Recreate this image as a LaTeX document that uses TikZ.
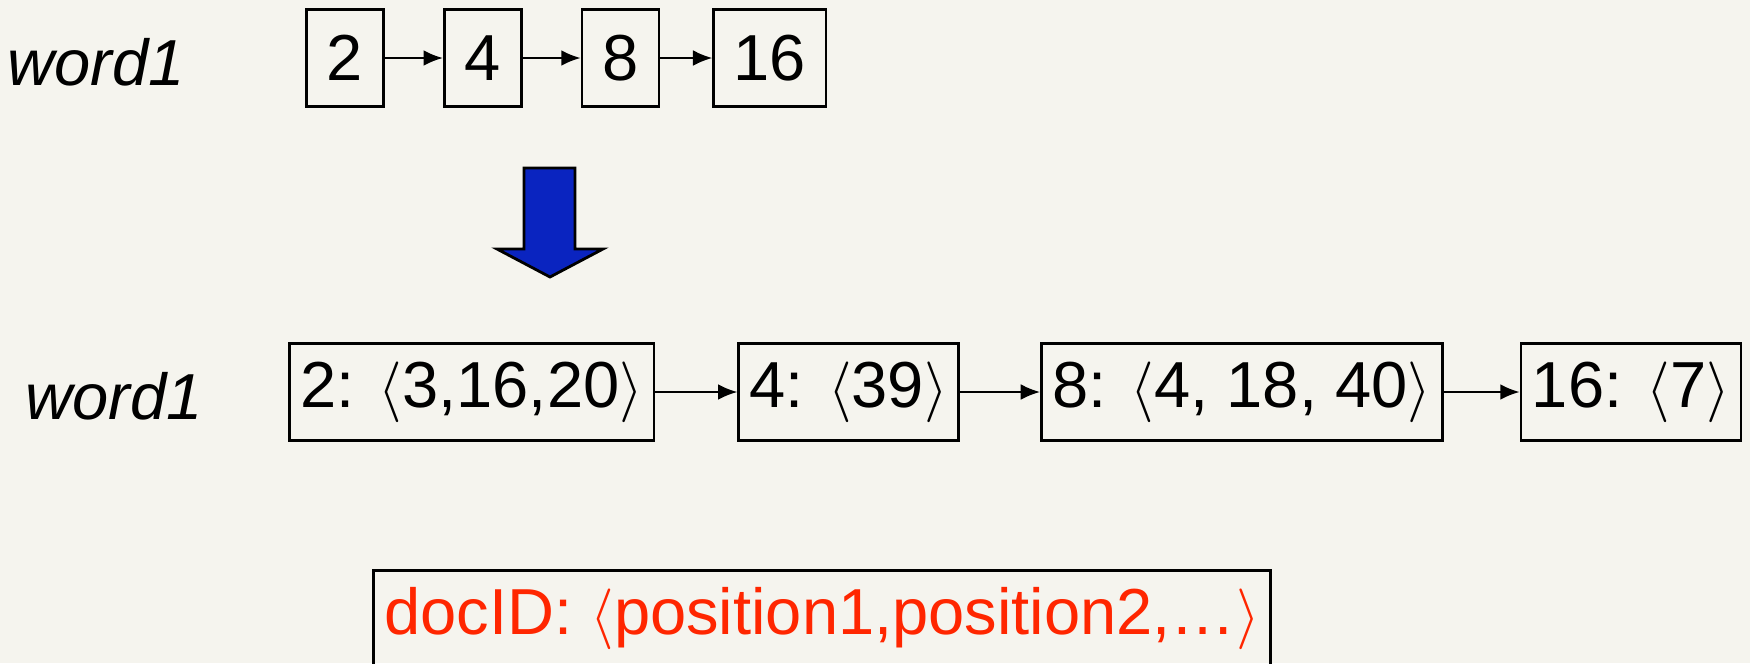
\documentclass[tikz,border=0pt]{standalone}
\usepackage{fontspec}
\setmainfont{Liberation Sans}
\usetikzlibrary{arrows.meta,positioning}

\definecolor{paper}{RGB}{245,244,238}
\definecolor{mergeblue}{RGB}{10,36,192}
\definecolor{idred}{RGB}{255,38,0}
\newcommand{\posopen}{\ensuremath{\langle}}
\newcommand{\posclose}{\ensuremath{\rangle}}

\begin{document}
\begin{tikzpicture}[x=0.01cm,y=-0.01cm,>={Latex[length=5.5pt,width=4.5pt]},
    every node/.style={font=\fontsize{18.5}{22}\selectfont},
    term/.style={font=\fontsize{18.5}{22}\selectfont\itshape},
    cell/.style={draw,line width=0.75pt,minimum height=0.97cm,inner xsep=0.11cm},
    tinycell/.style={cell,minimum width=0.77cm,inner xsep=0.2cm},
    link/.style={->,line width=0.6pt},
    node distance=0.58cm]
	\fill[paper] (0,0) rectangle (1750,663);
	\useasboundingbox (0,0) rectangle (1750,663);
	% plain postings list
	\node[term] (w_top) at (96,62) {word1};
	\node[tinycell] (t_2) at (345,58) {2};
	\node[tinycell] [right=of t_2] (t_4) {4};
	\node[tinycell] [right=of t_4] (t_8) {8};
	\node[tinycell] [right=0.52cm of t_8] (t_16) {16};
	\path[link]
		(t_2) edge (t_4)
		(t_4) edge (t_8)
		(t_8) edge (t_16);
	% big arrow down
	\filldraw[fill=mergeblue,line width=0.8pt] (524,168) -- (575,168) -- (575,249)
		-- (603,249) -- (550,277) -- (497,249) -- (524,249) -- cycle;
	% positional postings list
	\node[term] (w_bot) at (114,396) {word1};
	\node[cell,anchor=west] (p_2) at (288,392) {2: \posopen3,16,20\posclose};
	\node[cell] [right=0.82cm of p_2] (p_4) {4: \posopen39\posclose};
	\node[cell] [right=0.80cm of p_4] (p_8) {8: \posopen4, 18, 40\posclose};
	\node[cell] [right=0.76cm of p_8] (p_16) {16: \posopen7\posclose};
	\path[link]
		(p_2) edge (p_4)
		(p_4) edge (p_8)
		(p_8) edge (p_16);
	% entry format
	\node[cell,anchor=north west,text=idred] (fmt) at (372,569)
		{docID: \posopen position1,position2,…\posclose};
\end{tikzpicture}
\end{document}
